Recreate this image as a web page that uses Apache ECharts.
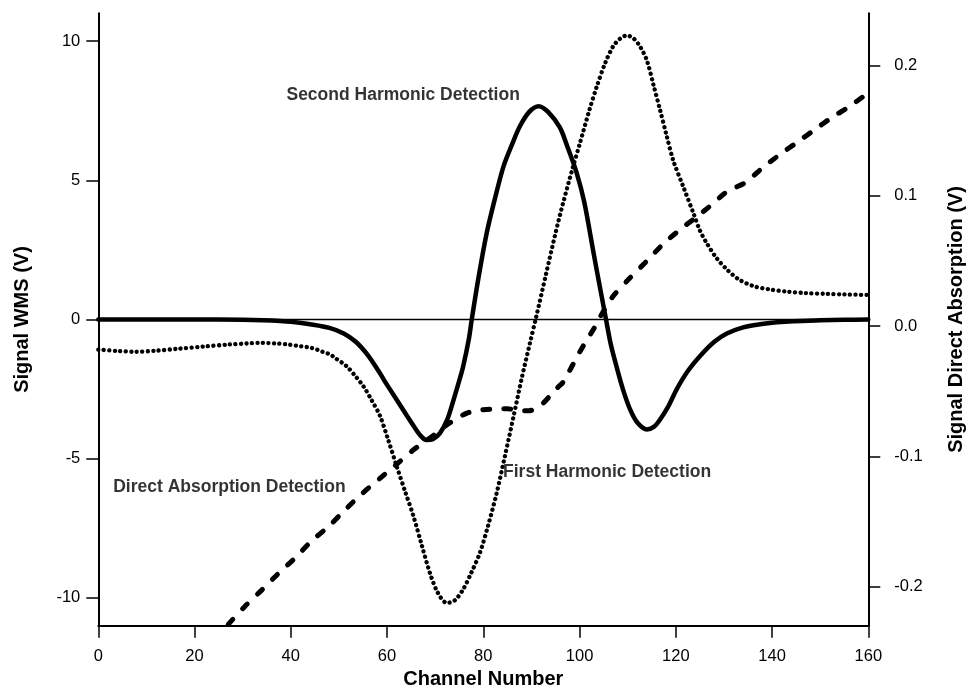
<!DOCTYPE html>
<html>
<head>
<meta charset="utf-8">
<script src="https://cdn.jsdelivr.net/npm/echarts@6/dist/echarts.min.js"></script>
<style>
  html, body { margin: 0; padding: 0; background: #ffffff; }
  #chart { width: 969px; height: 690px; }
</style>
</head>
<body>
<div id="chart"></div>
<script>
// Second harmonic WMS signal (left axis, V)
const secondHarmonicChannel = [0, 10, 20, 30, 37.8, 41, 44, 48, 51, 53.5, 56, 58.3, 60, 62, 64, 65.5, 67, 68.2, 69.5, 71, 72.5, 73.8, 75, 75.8, 77, 77.6, 79, 80.7, 82.5, 84.2, 86, 87.6, 89.5, 91.5, 93.5, 95.9, 97.5, 99.4, 101, 102.9, 104.3, 105.5, 106.5, 107.7, 109, 110.5, 112, 114, 115.5, 116.7, 118.5, 120.2, 122.5, 125.1, 128, 130.6, 134, 137.5, 141, 144.4, 150, 155, 160];
const secondHarmonicSignal = [0, 0, 0, -0.01, -0.05, -0.1, -0.17, -0.3, -0.5, -0.8, -1.28, -1.87, -2.35, -2.88, -3.42, -3.82, -4.18, -4.33, -4.3, -4.08, -3.6, -2.9, -2.2, -1.7, -0.7, 0, 1.5, 3.1, 4.4, 5.5, 6.3, 6.94, 7.45, 7.66, 7.45, 6.9, 6.2, 5.27, 4.2, 2.4, 1.1, 0, -0.9, -1.7, -2.5, -3.23, -3.7, -3.95, -3.85, -3.6, -3.1, -2.5, -1.85, -1.3, -0.8, -0.5, -0.28, -0.17, -0.1, -0.06, -0.03, -0.01, 0];

// First harmonic WMS signal (left axis, V)
const firstHarmonicChannel = [0, 4, 7.6, 12, 16.6, 22, 27, 31, 34, 37, 39.5, 42, 44.3, 46.5, 48.2, 49.2, 51.6, 53.5, 55.1, 56.8, 58.5, 60.2, 62, 63.8, 65.5, 67.2, 68.9, 70.5, 72.4, 74, 75.8, 77.5, 79.3, 81, 82.8, 84.5, 86.3, 88, 89.7, 91, 93, 95, 96.6, 98.5, 100.1, 102, 103.6, 105.3, 107, 108.5, 109.8, 111.2, 112.6, 114, 115.4, 116.7, 118.1, 119.5, 121.6, 123.7, 125, 126.4, 128.5, 130.6, 133, 136.1, 139.5, 143.1, 147, 151.4, 155, 160];
const firstHarmonicSignal = [-1.08, -1.13, -1.16, -1.12, -1.05, -0.97, -0.9, -0.86, -0.84, -0.86, -0.9, -0.96, -1.02, -1.15, -1.26, -1.38, -1.68, -2.05, -2.4, -2.9, -3.45, -4.3, -5.27, -6.2, -7.07, -8.1, -9.1, -9.8, -10.18, -10.1, -9.7, -9.1, -8.38, -7.4, -6.22, -4.9, -3.47, -2.1, -0.84, 0.1, 1.6, 3.1, 4.2, 5.4, 6.35, 7.5, 8.38, 9.2, 9.82, 10.1, 10.2, 10.1, 9.8, 9.3, 8.4, 7.55, 6.6, 5.7, 4.75, 3.8, 3.2, 2.75, 2.2, 1.8, 1.45, 1.2, 1.08, 1.0, 0.95, 0.92, 0.9, 0.88];

// Direct absorption signal (right axis, V)
const directChannel = [27, 30.5, 34, 37.4, 40.9, 44.3, 47.8, 51.3, 54.7, 58.2, 61.7, 65.5, 68.9, 72.4, 74.5, 76.5, 78.5, 80.7, 83, 85, 87.6, 89.5, 91, 92.5, 94, 95.5, 96.6, 98.7, 100.8, 102.9, 104.6, 107, 110.5, 114, 117.4, 120.9, 123.7, 127.1, 130.6, 134.4, 137.9, 141.4, 145.2, 148.6, 152.4, 155.9, 160];
const directSignal = [-0.229, -0.215, -0.2025, -0.19, -0.178, -0.165, -0.154, -0.141, -0.129, -0.118, -0.107, -0.095, -0.086, -0.076, -0.071, -0.067, -0.065, -0.064, -0.0635, -0.0635, -0.065, -0.065, -0.063, -0.059, -0.053, -0.047, -0.043, -0.029, -0.015, -0.0025, 0.009, 0.023, 0.037, 0.05, 0.063, 0.074, 0.082, 0.092, 0.103, 0.11, 0.121, 0.131, 0.141, 0.15, 0.16, 0.168, 0.179];

// Tick values
const channelTicks = [0, 20, 40, 60, 80, 100, 120, 140, 160];
const wmsTicks = [-10, -5, 0, 5, 10];
const directTicks = [-0.2, -0.1, 0, 0.1, 0.2];

// Curve labels, anchored at their left end in data coordinates
const labelText = ['Second Harmonic Detection', 'First Harmonic Detection', 'Direct Absorption Detection'];
const labelChannel = [39.1, 84.1, 3.1];
const labelSignal = [8.06, -5.5, -6.03];

const FONT = '"Liberation Sans", Arial, Helvetica, sans-serif';

function pairs(xs, ys) {
  return xs.map((x, i) => [x, ys[i]]);
}

const chart = echarts.init(document.getElementById('chart'), null, { renderer: 'canvas' });

const axisLine = { show: true, onZero: false, lineStyle: { color: '#000', width: 2 } };
const axisTick = { show: true, inside: false, length: 12, lineStyle: { color: '#000', width: 1.5 } };
const tickFont = { fontFamily: FONT, fontSize: 16.5, color: '#000' };
const titleFont = { fontFamily: FONT, fontWeight: 'bold', fontSize: 20, color: '#000' };

chart.setOption({
  animation: false,
  backgroundColor: '#ffffff',
  grid: {
    left: 98.3, right: 100.7, top: 13.3, bottom: 64.3,
    containLabel: false,
    outerBoundsMode: 'none'
  },
  xAxis: {
    type: 'value',
    min: 0,
    max: 160,
    interval: 20,
    name: 'Channel Number',
    nameLocation: 'middle',
    nameGap: 41,
    nameTextStyle: titleFont,
    axisLine: axisLine,
    axisTick: Object.assign({}, axisTick, { customValues: channelTicks }),
    axisLabel: Object.assign({ customValues: channelTicks, margin: 22 }, tickFont),
    splitLine: { show: false }
  },
  yAxis: [
    {
      type: 'value',
      position: 'left',
      min: -11,
      max: 11,
      name: 'Signal WMS (V)',
      nameLocation: 'middle',
      nameGap: 66,
      nameTextStyle: titleFont,
      axisLine: axisLine,
      axisTick: Object.assign({}, axisTick, { customValues: wmsTicks }),
      axisLabel: Object.assign({ customValues: wmsTicks, margin: 18 }, tickFont),
      splitLine: { show: false }
    },
    {
      type: 'value',
      position: 'right',
      min: -0.23,
      max: 0.24,
      name: 'Signal Direct Absorption (V)',
      nameLocation: 'middle',
      nameGap: 78,
      nameTextStyle: titleFont,
      axisLine: axisLine,
      axisTick: Object.assign({}, axisTick, { customValues: directTicks }),
      axisLabel: Object.assign({
        customValues: directTicks,
        margin: 26,
        formatter: v => v.toFixed(1)
      }, tickFont),
      splitLine: { show: false }
    }
  ],
  series: [
    {
      name: 'Second Harmonic Detection',
      type: 'line',
      yAxisIndex: 0,
      data: pairs(secondHarmonicChannel, secondHarmonicSignal),
      showSymbol: false,
      smooth: 0.3,
      lineStyle: { color: '#000', width: 4.5, cap: 'round', join: 'round' },
      z: 3,
      markLine: {
        silent: true,
        symbol: ['none', 'none'],
        label: { show: false },
        lineStyle: { color: '#000', width: 1.3, type: 'solid' },
        data: [{ yAxis: 0 }]
      }
    },
    {
      name: 'First Harmonic Detection',
      type: 'line',
      yAxisIndex: 0,
      data: pairs(firstHarmonicChannel, firstHarmonicSignal),
      showSymbol: false,
      smooth: 0.3,
      lineStyle: { color: '#000', width: 4.3, type: [0.1, 5.4], cap: 'round', join: 'round' },
      z: 2
    },
    {
      name: 'Direct Absorption Detection',
      type: 'line',
      yAxisIndex: 1,
      data: pairs(directChannel, directSignal),
      showSymbol: false,
      smooth: 0.3,
      lineStyle: { color: '#000', width: 5, type: [7, 14], cap: 'round', join: 'round' },
      z: 2
    },
    {
      name: 'labels',
      type: 'scatter',
      yAxisIndex: 0,
      symbolSize: 0,
      silent: true,
      data: labelText.map((t, i) => ({ value: [labelChannel[i], labelSignal[i]], name: t })),
      label: {
        show: true,
        position: 'right',
        distance: 0,
        formatter: p => p.name,
        fontFamily: FONT,
        fontWeight: 'bold',
        fontSize: 17.5,
        color: '#000',
        textBorderWidth: 0
      },
      z: 5
    }
  ]
});
</script>
</body>
</html>
